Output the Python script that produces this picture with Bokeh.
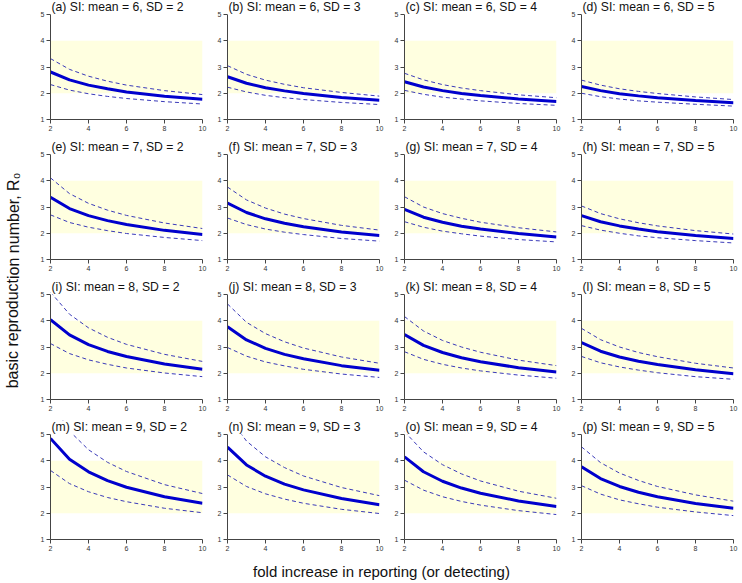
from bokeh.plotting import figure
from bokeh.models import Range1d, FixedTicker, Label, BoxAnnotation
from bokeh.layouts import gridplot, row, column
from bokeh.embed import file_html
from bokeh.resources import INLINE

# ---------------- data ----------------
fold = [2, 3, 4, 5, 6, 8, 10]
si_mean = [6, 7, 8, 9]
si_sd = [2, 3, 4, 5]
letters = list("abcdefghijklmnop")
band = [2, 4]
x_ticks = [2, 4, 6, 8, 10]
y_ticks = [1, 2, 3, 4, 5]

mid_a = [2.81, 2.51, 2.31, 2.17, 2.05, 1.89, 1.77]
hi_a = [3.32, 2.91, 2.65, 2.46, 2.31, 2.10, 1.95]
lo_a = [2.33, 2.12, 1.98, 1.88, 1.80, 1.68, 1.59]

mid_b = [2.63, 2.38, 2.21, 2.09, 1.99, 1.84, 1.73]
hi_b = [3.05, 2.72, 2.50, 2.34, 2.21, 2.03, 1.89]
lo_b = [2.23, 2.05, 1.92, 1.83, 1.76, 1.65, 1.57]

mid_c = [2.44, 2.24, 2.10, 1.99, 1.91, 1.78, 1.69]
hi_c = [2.76, 2.51, 2.33, 2.20, 2.10, 1.94, 1.83]
lo_c = [2.11, 1.96, 1.85, 1.78, 1.71, 1.61, 1.54]

mid_d = [2.26, 2.10, 1.98, 1.90, 1.83, 1.72, 1.64]
hi_d = [2.50, 2.31, 2.17, 2.07, 1.99, 1.86, 1.76]
lo_d = [2.00, 1.87, 1.78, 1.71, 1.66, 1.58, 1.51]

mid_e = [3.37, 2.94, 2.67, 2.48, 2.33, 2.11, 1.95]
hi_e = [4.11, 3.51, 3.14, 2.88, 2.68, 2.39, 2.18]
lo_e = [2.70, 2.41, 2.23, 2.10, 1.99, 1.84, 1.72]

mid_f = [3.15, 2.79, 2.55, 2.38, 2.25, 2.05, 1.91]
hi_f = [3.76, 3.27, 2.96, 2.73, 2.56, 2.30, 2.12]
lo_f = [2.58, 2.33, 2.16, 2.04, 1.95, 1.80, 1.70]

mid_g = [2.91, 2.61, 2.42, 2.27, 2.16, 1.99, 1.86]
hi_g = [3.39, 3.00, 2.75, 2.57, 2.42, 2.21, 2.05]
lo_g = [2.44, 2.23, 2.08, 1.98, 1.89, 1.76, 1.67]

mid_h = [2.67, 2.44, 2.28, 2.16, 2.06, 1.91, 1.80]
hi_h = [3.04, 2.75, 2.55, 2.40, 2.28, 2.10, 1.97]
lo_h = [2.29, 2.12, 2.00, 1.90, 1.83, 1.72, 1.63]

mid_i = [4.04, 3.46, 3.09, 2.83, 2.64, 2.35, 2.15]
hi_i = [5.09, 4.25, 3.73, 3.37, 3.10, 2.72, 2.45]
lo_i = [3.13, 2.75, 2.51, 2.34, 2.20, 2.01, 1.87]

mid_j = [3.77, 3.27, 2.95, 2.72, 2.55, 2.29, 2.11]
hi_j = [4.64, 3.94, 3.51, 3.20, 2.96, 2.62, 2.38]
lo_j = [2.98, 2.65, 2.43, 2.28, 2.15, 1.97, 1.84]

mid_k = [3.47, 3.06, 2.79, 2.59, 2.44, 2.21, 2.05]
hi_k = [4.16, 3.61, 3.25, 3.00, 2.80, 2.50, 2.29]
lo_k = [2.82, 2.53, 2.34, 2.20, 2.09, 1.93, 1.81]

mid_l = [3.17, 2.84, 2.62, 2.46, 2.33, 2.13, 1.98]
hi_l = [3.71, 3.28, 3.00, 2.79, 2.63, 2.38, 2.20]
lo_l = [2.64, 2.40, 2.24, 2.12, 2.02, 1.87, 1.77]

mid_m = [4.85, 4.06, 3.58, 3.24, 2.99, 2.63, 2.38]
hi_m = [6.30, 5.13, 4.42, 3.94, 3.59, 3.09, 2.75]
lo_m = [3.63, 3.13, 2.82, 2.60, 2.44, 2.19, 2.02]

mid_n = [4.52, 3.84, 3.41, 3.11, 2.89, 2.56, 2.32]
hi_n = [5.73, 4.75, 4.15, 3.74, 3.42, 2.98, 2.67]
lo_n = [3.46, 3.02, 2.74, 2.54, 2.38, 2.15, 1.99]

mid_o = [4.15, 3.58, 3.22, 2.96, 2.76, 2.47, 2.26]
hi_o = [5.11, 4.34, 3.85, 3.50, 3.23, 2.84, 2.57]
lo_o = [3.26, 2.88, 2.63, 2.45, 2.31, 2.10, 1.95]

mid_p = [3.77, 3.32, 3.02, 2.80, 2.63, 2.37, 2.19]
hi_p = [4.53, 3.93, 3.53, 3.25, 3.02, 2.70, 2.46]
lo_p = [3.05, 2.73, 2.51, 2.36, 2.23, 2.05, 1.91]

mids = [mid_a, mid_b, mid_c, mid_d, mid_e, mid_f, mid_g, mid_h,
        mid_i, mid_j, mid_k, mid_l, mid_m, mid_n, mid_o, mid_p]
his = [hi_a, hi_b, hi_c, hi_d, hi_e, hi_f, hi_g, hi_h,
       hi_i, hi_j, hi_k, hi_l, hi_m, hi_n, hi_o, hi_p]
los = [lo_a, lo_b, lo_c, lo_d, lo_e, lo_f, lo_g, lo_h,
       lo_i, lo_j, lo_k, lo_l, lo_m, lo_n, lo_o, lo_p]

# ---------------- styling ----------------
FONT = "Liberation Sans"
SOLID = "#0000CD"
DASH = "#3a3ab8"
BAND = "#FFFFE0"
AXIS = "#444444"

Y_LO, Y_HI = y_ticks[0], y_ticks[-1]
DATA_H = 105          # pixel height of the 1..5 data span
TITLE_H = 14          # pixel room above the 5 line for the panel title
FW = 152
FH = DATA_H + TITLE_H
BL, BR, BT, BB = 20, 5, 0, 21
PW, PH = FW + BL + BR, FH + BT + BB
y_top = Y_HI + TITLE_H * (Y_HI - Y_LO) / DATA_H

figs = []
for idx in range(16):
    ri, ci = divmod(idx, 4)
    title = "(%s) SI: mean = %d, SD = %d" % (letters[idx], si_mean[ri], si_sd[ci])
    p = figure(frame_width=FW, frame_height=FH, output_backend="svg", toolbar_location=None,
               x_range=Range1d(x_ticks[0], x_ticks[-1]), y_range=Range1d(Y_LO, y_top),
               min_border_left=BL, min_border_right=BR,
               min_border_top=BT, min_border_bottom=BB)
    p.outline_line_color = None
    p.background_fill_color = "white"
    p.border_fill_color = "white"
    p.grid.visible = False
    for ax, ticks in ((p.xaxis[0], x_ticks), (p.yaxis[0], y_ticks)):
        ax.ticker = FixedTicker(ticks=ticks)
        ax.bounds = (ticks[0], ticks[-1])
        ax.minor_tick_line_color = None
        ax.major_tick_in = 0
        ax.major_tick_out = 4
        ax.axis_line_color = AXIS
        ax.major_tick_line_color = AXIS
        ax.major_label_text_font = FONT
        ax.major_label_text_font_size = "7px"
        ax.major_label_text_color = "#333333"
        ax.major_label_standoff = 2
    p.add_layout(BoxAnnotation(bottom=band[0], top=band[1], fill_color=BAND,
                               fill_alpha=1.0, line_color=None, level="underlay"))
    p.line(fold, his[idx], line_color=DASH, line_width=1, line_dash="4 3")
    p.line(fold, los[idx], line_color=DASH, line_width=1, line_dash="4 3")
    p.line(fold, mids[idx], line_color=SOLID, line_width=3)
    # keep the plotting region limited to 1..5 (area above is the title strip)
    p.add_layout(BoxAnnotation(bottom=Y_HI, fill_color="white", fill_alpha=1.0,
                               line_color=None, level="annotation"))
    p.add_layout(Label(x=x_ticks[0], y=Y_HI, x_offset=1, y_offset=1, text=title,
                       text_align="left", text_baseline="bottom",
                       text_font=FONT, text_font_size="12.2px", text_color="#111111"))
    figs.append(p)

grid = gridplot(figs, ncols=4, toolbar_location=None)

# y axis label strip
GRID_H = PH * 4
YL_W = 30
ylab = figure(width=YL_W, height=GRID_H, output_backend="svg", toolbar_location=None,
              x_range=Range1d(0, YL_W), y_range=Range1d(0, GRID_H),
              min_border=0)
ylab.axis.visible = False
ylab.grid.visible = False
ylab.outline_line_color = None
ylab.add_layout(Label(x=12.5, y=GRID_H - 280, text="basic reproduction number, R\u2080",
                      angle=1.5707963, text_align="center", text_baseline="middle",
                      text_font=FONT, text_font_size="16px", text_color="#111111"))

# x axis label strip
XL_W = PW * 4
XL_H = 583 - GRID_H
xlab = figure(width=XL_W, height=XL_H, output_backend="svg", toolbar_location=None,
              x_range=Range1d(0, XL_W), y_range=Range1d(0, XL_H),
              min_border=0)
xlab.axis.visible = False
xlab.grid.visible = False
xlab.outline_line_color = None
xlab.add_layout(Label(x=381 - YL_W, y=583 - 571, text="fold increase in reporting (or detecting)",
                      text_align="center", text_baseline="middle",
                      text_font=FONT, text_font_size="15px", text_color="#111111"))

layout = row(ylab, column(grid, xlab))

open("out.html", "w").write(file_html(layout, INLINE))
